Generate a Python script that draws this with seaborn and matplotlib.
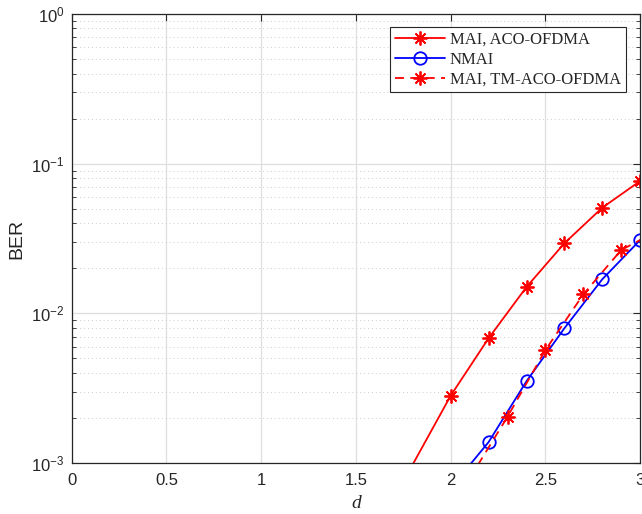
import numpy as np
import pandas as pd
import matplotlib
matplotlib.use("Agg")
import matplotlib.pyplot as plt
from matplotlib.ticker import FixedLocator, LogLocator, NullFormatter
import seaborn as sns

# BER versus d for the three schemes
d_aco = [1.8, 2.0, 2.2, 2.4, 2.6, 2.8, 3.0]
ber_aco = [9.8e-4, 2.82e-3, 6.82e-3, 1.50e-2, 2.94e-2, 5.08e-2, 7.66e-2]

d_nmai = [2.0, 2.2, 2.4, 2.6, 2.8, 3.0]
ber_nmai = [6.8e-4, 1.38e-3, 3.52e-3, 7.95e-3, 1.69e-2, 3.09e-2]

d_tm = [2.1, 2.3, 2.5, 2.7, 2.9, 3.0]
ber_tm = [7.9e-4, 2.04e-3, 5.69e-3, 1.34e-2, 2.65e-2, 3.09e-2]

labels = ["MAI, ACO-OFDMA", "NMAI", "MAI, TM-ACO-OFDMA"]
x_ticks = [0, 0.5, 1, 1.5, 2, 2.5, 3]
x_tick_labels = ["0", "0.5", "1", "1.5", "2", "2.5", "3"]
y_ticks = [1e-3, 1e-2, 1e-1, 1e0]
y_tick_labels = [r"$10^{-3}$", r"$10^{-2}$", r"$10^{-1}$", r"$10^{0}$"]
y_min, y_max = 1e-3, 1e0

sns.set_theme(style="white")
plt.rcParams["font.family"] = ["Liberation Sans", "DejaVu Sans"]
plt.rcParams["mathtext.fontset"] = "custom"
plt.rcParams["mathtext.rm"] = "Liberation Sans"
plt.rcParams["mathtext.it"] = "Liberation Sans:italic"
plt.rcParams["mathtext.bf"] = "Liberation Sans:bold"

axis_color = "#262626"
grid_color = "#dfdfdf"


def inside(ys):
    """Indices of points lying within the visible y range (markers only there)."""
    return [i for i, v in enumerate(ys) if y_min <= v <= y_max]


fig = plt.figure(figsize=(6.42, 5.14), dpi=100)
ax = fig.add_axes([0.1117, 0.0992, 0.8855, 0.8736])

asterisk = (8, 2, 0)

df_aco = pd.DataFrame({"d": d_aco, "BER": ber_aco})
df_nmai = pd.DataFrame({"d": d_nmai, "BER": ber_nmai})
df_tm = pd.DataFrame({"d": d_tm, "BER": ber_tm})

sns.lineplot(data=df_aco, x="d", y="BER", ax=ax, color="#ff0000", lw=1.3,
             marker=asterisk, markersize=10, markeredgewidth=1.3,
             markeredgecolor="#ff0000", markevery=inside(ber_aco),
             label=labels[0])
sns.lineplot(data=df_nmai, x="d", y="BER", ax=ax, color="#0000ff", lw=1.3,
             marker="o", markersize=9, markeredgewidth=1.3,
             markerfacecolor="none", markeredgecolor="#0000ff",
             markevery=inside(ber_nmai), label=labels[1])
tm_marks = [i for i in inside(ber_tm) if i < len(d_tm) - 1]
sns.lineplot(data=df_tm, x="d", y="BER", ax=ax, color="#ff0000", lw=1.3,
             linestyle=(0, (5, 3.5)), marker=asterisk, markersize=10,
             markeredgewidth=1.3, markeredgecolor="#ff0000",
             markevery=tm_marks, label=labels[2])

ax.set_yscale("log")
ax.set_xlim(0, 3)
ax.set_ylim(y_min, y_max)

ax.xaxis.set_major_locator(FixedLocator(x_ticks))
ax.set_xticklabels(x_tick_labels)
ax.yaxis.set_major_locator(FixedLocator(y_ticks))
ax.set_yticklabels(y_tick_labels)
ax.yaxis.set_minor_locator(LogLocator(base=10, subs=np.arange(2, 10)))
ax.yaxis.set_minor_formatter(NullFormatter())

ax.grid(True, which="major", color=grid_color, lw=0.9, ls="-")
ax.grid(True, which="minor", axis="y", color="#cccccc", lw=0.7, ls=(0, (1, 3)))
ax.set_axisbelow(True)

ax.tick_params(axis="both", which="major", direction="in", length=5, width=0.8,
               top=True, right=True, colors=axis_color, labelsize=12,
               labelcolor=axis_color)
ax.tick_params(axis="x", which="major", pad=7)
ax.tick_params(axis="y", which="major", pad=5)
ax.tick_params(axis="y", which="minor", direction="in", length=3, width=0.6,
               left=True, right=True, colors=axis_color)
for s in ax.spines.values():
    s.set_color(axis_color)
    s.set_linewidth(0.9)
    s.set_visible(True)

ax.set_xlabel("d", fontfamily="Liberation Serif", style="italic", fontsize=14,
              color=axis_color, labelpad=5)
ax.set_ylabel("BER", fontsize=14, color=axis_color, labelpad=4)

leg = ax.legend(loc="upper right", bbox_to_anchor=(0.975, 0.971),
                prop={"family": "Liberation Serif", "size": 12},
                frameon=True, fancybox=False, edgecolor=axis_color,
                framealpha=1, handlelength=3.0, handletextpad=0.3,
                labelspacing=0.22, borderpad=0.3, borderaxespad=0)
leg.get_frame().set_linewidth(0.8)

fig.savefig("out.png", dpi=100)
